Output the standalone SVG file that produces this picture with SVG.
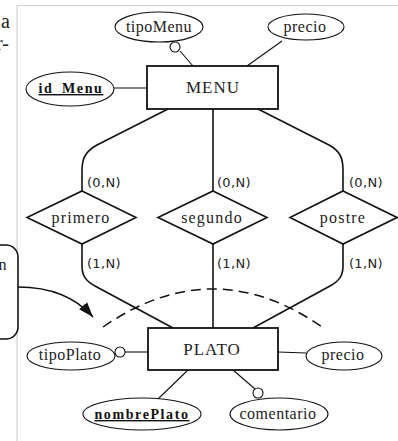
<svg xmlns="http://www.w3.org/2000/svg" width="398" height="441" viewBox="0 0 398 441">
<style>
.frame{stroke:#d0d0d0;stroke-width:1.2;fill:none}
.box{fill:#fff;stroke:#111;stroke-width:1.8}
.dia{fill:#fff;stroke:#111;stroke-width:1.6}
.att{fill:#fff;stroke:#111;stroke-width:1.1}
.conn{fill:none;stroke:#111;stroke-width:1.6}
.aline{fill:none;stroke:#111;stroke-width:1.1}
.dash{fill:none;stroke:#111;stroke-width:1.5;stroke-dasharray:10,6}
.opt{fill:#fff;stroke:#111;stroke-width:1.1}
.t{font-family:"Liberation Serif","Times New Roman",serif;font-size:16px;fill:#222;text-anchor:middle;letter-spacing:0.5px}
.ent{font-family:"Liberation Serif","Times New Roman",serif;font-size:17px;fill:#222;text-anchor:middle;letter-spacing:1px}
.rel{font-family:"Liberation Serif","Times New Roman",serif;font-size:16px;fill:#222;text-anchor:middle;letter-spacing:1.2px}
.key{font-family:"Liberation Serif","Times New Roman",serif;font-size:14px;font-weight:bold;fill:#111;text-anchor:middle;letter-spacing:1.6px;text-decoration:underline}
.card{font-family:"DejaVu Sans",sans-serif;font-size:13px;fill:#222;letter-spacing:0.3px}
.side{font-family:"Liberation Serif","Times New Roman",serif;font-size:20px;fill:#222;text-anchor:end}
</style>
<defs>
<marker id="ah" markerUnits="userSpaceOnUse" viewBox="0 0 14 10" refX="14" refY="5" markerWidth="15" markerHeight="11" orient="auto">
<path d="M0,0 L14,5 L0,10 z" fill="#111"/>
</marker>
</defs>

<g id="frame">
<line class="frame" x1="17" y1="5.5" x2="398" y2="5.5"/>
<line class="frame" x1="17" y1="5.5" x2="17" y2="441"/>
</g>

<g id="side-text">
<text class="side" x="10" y="28">a</text>
<text class="side" x="9" y="50">r-</text>
</g>

<g id="callout">
<rect x="-40" y="245" width="58" height="94" rx="12" fill="#fff" stroke="#111" stroke-width="1.6"/>
<text class="t" x="7" y="270" style="text-anchor:end">n</text>
</g>

<g id="connectors">
<path class="conn" d="M168,109 L97,145 C86,151 82,158 82,170 L82,191"/>
<path class="conn" d="M213,109 L213,191"/>
<path class="conn" d="M258,109 L329,145 C340,151 343,158 343,170 L343,191"/>
<path class="conn" d="M82,244 L82,266 C82,276 86,281 95,286 L173,328"/>
<path class="conn" d="M213,244 L213,328"/>
<path class="conn" d="M343,244 L343,266 C343,276 339,281 330,286 L253,328"/>
<path class="dash" d="M103,327 Q213,251 322,327"/>
<path class="conn" d="M18,287 C55,287 78,300 93,317" marker-end="url(#ah)"/>
<line class="aline" x1="180" y1="51" x2="193" y2="66"/>
<line class="aline" x1="282" y1="41" x2="247" y2="66"/>
<line class="aline" x1="114" y1="88" x2="147" y2="88"/>
<line class="aline" x1="125" y1="352" x2="148" y2="352"/>
<line class="aline" x1="278" y1="352" x2="306" y2="353"/>
<line class="aline" x1="158" y1="399" x2="188" y2="370"/>
<line class="aline" x1="233" y1="370" x2="255" y2="389"/>
</g>

<g id="MENU">
<rect class="box" x="147" y="66" width="131" height="43"/>
<text class="ent" x="213" y="93">MENU</text>
</g>
<g id="tipoMenu">
<ellipse class="att" cx="159" cy="27" rx="44" ry="15"/>
<text class="t" x="159" y="32">tipoMenu</text>
<circle class="opt" cx="175" cy="47" r="5"/>
</g>
<g id="precioMenu">
<ellipse class="att" cx="306" cy="27" rx="38" ry="13"/>
<text class="t" x="305" y="32">precio</text>
</g>
<g id="id_Menu">
<ellipse class="att" cx="70" cy="89" rx="44" ry="17"/>
<text class="key" x="71" y="93">id_Menu</text>
</g>

<g id="primero">
<polygon class="dia" points="82,191 136,217.5 82,244 27,217.5"/>
<text class="rel" x="81" y="223">primero</text>
</g>
<g id="segundo">
<polygon class="dia" points="213,191 267,217.5 213,244 158,217.5"/>
<text class="rel" x="212" y="223">segundo</text>
</g>
<g id="postre">
<polygon class="dia" points="343,191 397,217.5 343,244 290,217.5"/>
<text class="rel" x="343" y="223">postre</text>
</g>

<g id="cards">
<text class="card" x="87" y="187">(0,N)</text>
<text class="card" x="217" y="187">(0,N)</text>
<text class="card" x="349" y="187">(0,N)</text>
<text class="card" x="87" y="268">(1,N)</text>
<text class="card" x="217" y="268">(1,N)</text>
<text class="card" x="349" y="268">(1,N)</text>
</g>

<g id="PLATO">
<rect class="box" x="148" y="328" width="130" height="42"/>
<text class="ent" x="212" y="355">PLATO</text>
</g>
<g id="tipoPlato">
<ellipse class="att" cx="71" cy="356" rx="44" ry="14"/>
<text class="t" x="70" y="360">tipoPlato</text>
<circle class="opt" cx="120" cy="352" r="5"/>
</g>
<g id="precioPlato">
<ellipse class="att" cx="344" cy="356" rx="38" ry="14"/>
<text class="t" x="343" y="360">precio</text>
</g>
<g id="nombrePlato">
<ellipse class="att" cx="142" cy="414" rx="59" ry="16"/>
<text class="key" x="142" y="419">nombrePlato</text>
</g>
<g id="comentario">
<ellipse class="att" cx="279" cy="414" rx="49" ry="16"/>
<text class="t" x="278" y="419">comentario</text>
<circle class="opt" cx="258" cy="393" r="5"/>
</g>
</svg>
